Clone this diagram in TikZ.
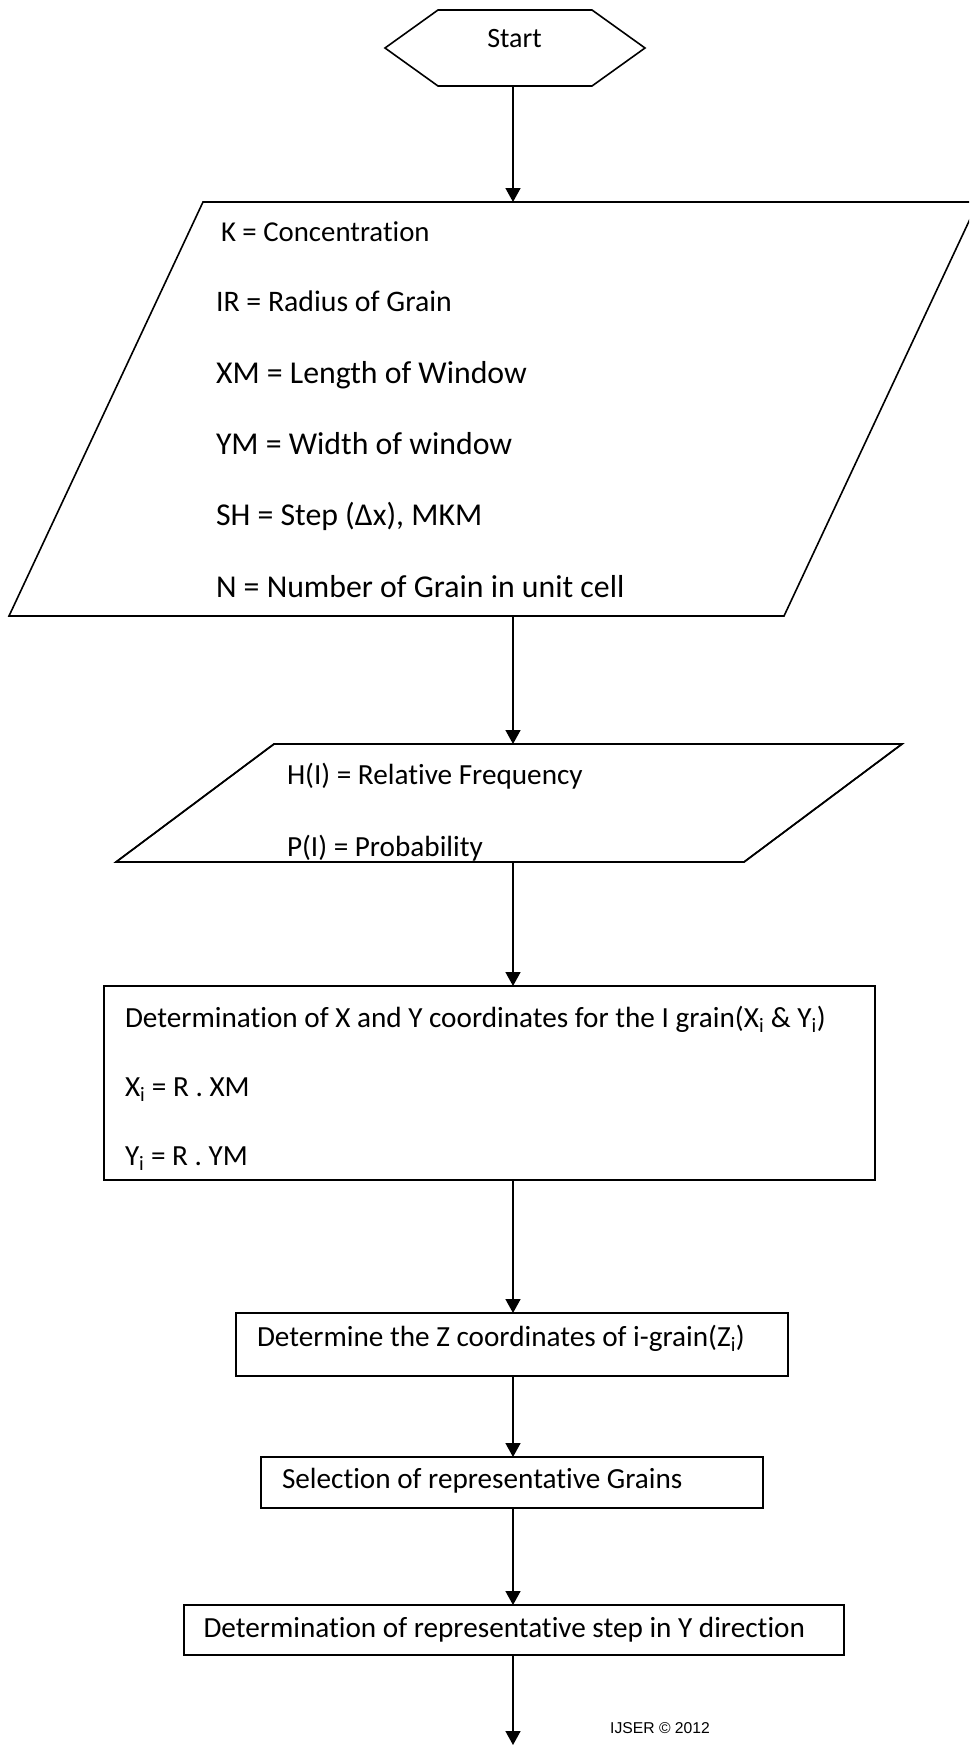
\documentclass[tikz,border=0pt]{standalone}
\usepackage{fontspec}
\setmainfont[RawFeature={-liga;-clig;-calt;-dlig}]{Carlito}
\newfontfamily\arialfam{Liberation Sans}
\usetikzlibrary{arrows.meta,calc}
\begin{document}
\begin{tikzpicture}[x=1pt,y=-1pt,
  shp/.style={draw=black, line width=1.6pt, fill=white},
  frame/.style={draw=none, inner sep=0pt, outer sep=0pt},
  rbox/.style={shp, inner sep=0pt, outer sep=0pt},
  lbl/.style={anchor=base west, inner sep=0pt, outer sep=0pt},
  fA/.style={lbl, font=\fontsize{28.8}{34}\selectfont},
  fB/.style={lbl, font=\fontsize{29.8}{35}\selectfont},
  fC/.style={lbl, font=\fontsize{31.8}{38}\selectfont},
  fD/.style={lbl, font=\fontsize{29.2}{35}\selectfont},
  conn/.style={draw=black, line width=1.6pt, -{Triangle[length=14pt,width=15pt]}}
]
\clip (0,0) rectangle (969,1745);

% Start terminal (hexagon)
\node[frame, minimum width=260pt, minimum height=76pt] (start) at (515,48) {};
\draw[shp] (start.west) -- ($(start.north west)+(53,0)$) -- ($(start.north east)+(-53,0)$)
  -- (start.east) -- ($(start.south east)+(-53,0)$) -- ($(start.south west)+(53,0)$) -- cycle;
\node[anchor=base, inner sep=0pt, font=\fontsize{28}{34}\selectfont] (starttxt) at (514.5,48) {Start};

% Input parallelogram 1
\node[frame, minimum width=2pt, minimum height=414pt] (p1) at (513,409) {};
\draw[shp] (203,202) -- (978,202) -- (784,616) -- (9,616) -- cycle;
\node[fA] (t1) at (221,241) {K = Concentration};
\node[fB] (t2) at (216,311) {IR = Radius of Grain};
\node[fC] (t3) at (216,383) {XM = Length of Window};
\node[fC] (t4) at (216,454) {YM = Width of window};
\node[fC] (t5) at (216,525) {SH = Step (Δx), MKM};
\node[fC] (t6) at (216,597) {N = Number of Grain in unit cell};

% Input parallelogram 2
\node[frame, minimum width=2pt, minimum height=118pt] (p2) at (513,803) {};
\draw[shp] (274,744) -- (902,744) -- (744,862) -- (116,862) -- cycle;
\begin{scope}
  \clip (274,744) -- (902,744) -- (744,862) -- (116,862) -- cycle;
  \node[fD] (t7) at (287,784) {H(I) = Relative Frequency};
  \node[fD] (t8) at (287,856) {P(I) = Probability};
\end{scope}
\draw[draw=black, line width=1.6pt] (274,744) -- (902,744) -- (744,862) -- (116,862) -- cycle;

% Process boxes
\node[rbox, minimum width=771pt, minimum height=194pt] (r3) at (489.5,1083) {};
\node[fD] (t9) at (125,1027) {Determination of X and Y coordinates for the I grain(X\textsubscript{i} \& Y\textsubscript{i})};
\node[fD] (t10) at (125,1096) {X\textsubscript{i} = R . XM};
\node[fD] (t11) at (125,1165) {Y\textsubscript{i} = R . YM};

\node[rbox, minimum width=552.5pt, minimum height=63pt] (r4) at (512,1344.5) {};
\node[fD] (t12) at (257,1346) {Determine the Z coordinates of i-grain(Z\textsubscript{i})};

\node[rbox, minimum width=502pt, minimum height=51pt] (r5) at (512,1482.5) {};
\node[fD] (t13) at (282,1488) {Selection of representative Grains};

\node[rbox, minimum width=660pt, minimum height=50pt] (r6) at (514,1630) {};
\node[fD] (t14) at (203.5,1637) {Determination of representative step in Y direction};

% Footer
\node[anchor=base west, inner sep=0pt, font=\arialfam\fontsize{15.7}{19}\selectfont] (ijser) at (610,1733) {IJSER © 2012};

% Connectors
\coordinate (endpt) at (513,1745);
\draw[conn] (start.south -| p1.south) -- (p1.north);
\draw[conn] (p1.south) -- (p2.north);
\draw[conn] (p2.south) -- (r3.north -| p1.south);
\draw[conn] (r3.south -| p1.south) -- (r4.north -| p1.south);
\draw[conn] (r4.south -| p1.south) -- (r5.north -| p1.south);
\draw[conn] (r5.south -| p1.south) -- (r6.north -| p1.south);
\draw[conn] (r6.south -| p1.south) -- (endpt);
\end{tikzpicture}
\end{document}
